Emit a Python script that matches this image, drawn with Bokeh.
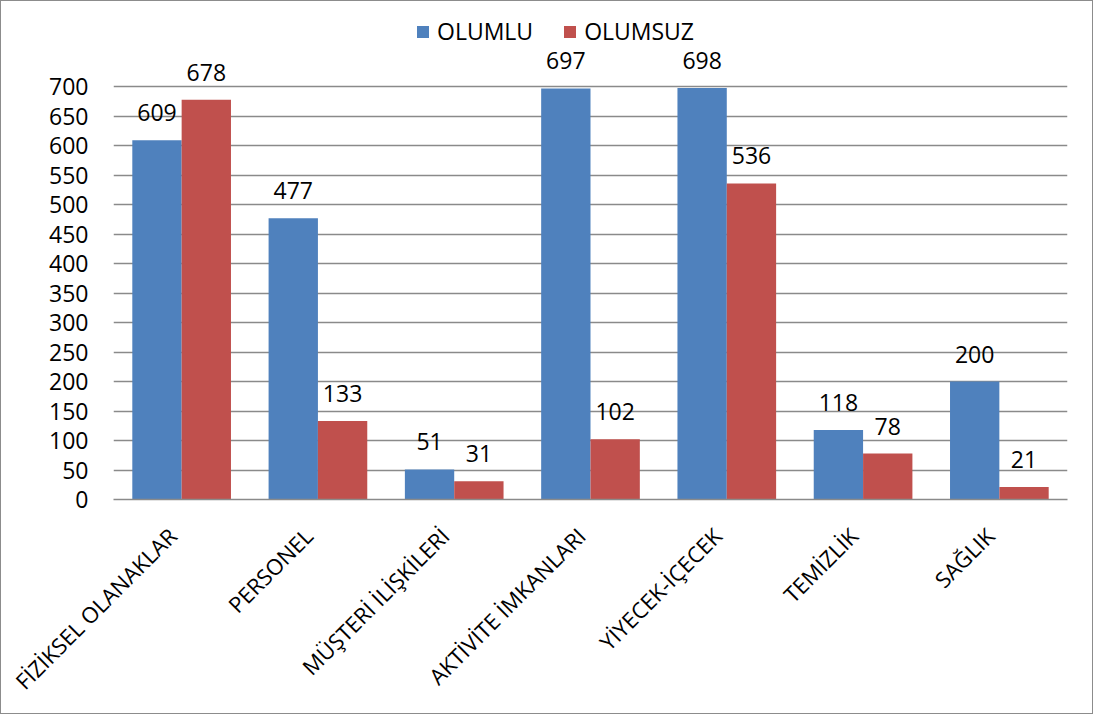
from bokeh.plotting import figure
from bokeh.models import (ColumnDataSource, FixedTicker, Legend, LegendItem,
                          Range1d, LinearAxis)
from bokeh.core.properties import value
from bokeh.embed import file_html
from bokeh.resources import INLINE
import math

categories = ["FİZİKSEL OLANAKLAR", "PERSONEL", "MÜŞTERİ İLİŞKİLERİ", "AKTİVİTE İMKANLARI",
              "YİYECEK-İÇECEK", "TEMİZLİK", "SAĞLIK"]
olumlu = [609, 477, 51, 697, 698, 118, 200]
olumsuz = [678, 133, 31, 102, 536, 78, 21]
series_names = ["OLUMLU", "OLUMSUZ"]
y_ticks = list(range(0, 701, 50))

FONT = "Open Sans"
BLUE = "#4F81BD"
RED = "#C0504D"
GRID = "#8a8a8a"

n = len(categories)
w = 0.362  # bar width as a fraction of one category slot
idx = list(range(n))

src = ColumnDataSource(dict(
    x1=[i - w / 2 for i in idx],
    x2=[i + w / 2 for i in idx],
    olumlu=olumlu,
    olumsuz=olumsuz,
    olumlu_txt=[str(v) for v in olumlu],
    olumsuz_txt=[str(v) for v in olumsuz],
))

p = figure(
    x_range=Range1d(-0.5, n - 0.5),
    y_range=Range1d(0, 836),
    width=1093, height=714,
    min_border_left=112, min_border_right=27, min_border_top=5, min_border_bottom=216,
    output_backend="svg", toolbar_location=None,
)
p.styles = {"border": "1px solid #8c8c8c"}
p.outline_line_color = None
p.background_fill_color = "white"
p.border_fill_color = "white"

r1 = p.vbar(x="x1", top="olumlu", width=w, bottom=0, source=src,
            fill_color=BLUE, line_color=None)
r2 = p.vbar(x="x2", top="olumsuz", width=w, bottom=0, source=src,
            fill_color=RED, line_color=None)

for xcol, col in (("x1", "olumlu"), ("x2", "olumsuz")):
    p.text(x=xcol, y=col, text=col + "_txt", source=src,
           text_align="center", text_baseline="bottom", y_offset=-19,
           text_font=value(FONT), text_font_size="23px", text_color="black")

# y axis
p.yaxis.ticker = FixedTicker(ticks=y_ticks)
p.yaxis.axis_line_color = None
p.yaxis.major_tick_line_color = None
p.yaxis.minor_tick_line_color = None
p.yaxis.major_tick_out = 0
p.yaxis.major_label_standoff = 25
p.yaxis.major_label_text_font = FONT
p.yaxis.major_label_text_font_size = "23px"
p.yaxis.major_label_text_color = "black"

# category axis on a label range nudged so rotated labels end under group centres
p.xaxis.visible = False
label_shift = 0.07
p.extra_x_ranges = {"lab": Range1d(-0.5 + label_shift, n - 0.5 + label_shift)}
cat_axis = LinearAxis(x_range_name="lab", ticker=FixedTicker(ticks=idx),
                      major_label_overrides={i: c for i, c in enumerate(categories)})
cat_axis.axis_line_color = GRID
cat_axis.axis_line_width = 1.5
cat_axis.major_tick_line_color = None
cat_axis.minor_tick_line_color = None
cat_axis.major_tick_out = 0
cat_axis.major_tick_in = 0
cat_axis.minor_tick_out = 0
cat_axis.minor_tick_in = 0
cat_axis.major_label_orientation = math.pi / 4
cat_axis.major_label_standoff = 32
cat_axis.major_label_text_font = FONT
cat_axis.major_label_text_font_size = "22px"
cat_axis.major_label_text_color = "black"
p.add_layout(cat_axis, "below")

p.xgrid.grid_line_color = None
p.ygrid.ticker = FixedTicker(ticks=y_ticks)
p.ygrid.grid_line_color = GRID
p.ygrid.grid_line_width = 1.5

legend = Legend(
    items=[LegendItem(label=series_names[0], renderers=[r1]),
           LegendItem(label=series_names[1], renderers=[r2])],
    orientation="horizontal", location=(302, 452),
    padding=0, margin=0, spacing=29, label_standoff=7,
    glyph_width=15, glyph_height=15,
    label_text_font=FONT, label_text_font_size="23px", label_text_color="black",
    background_fill_alpha=0, border_line_color=None,
)
p.add_layout(legend)

open("out.html", "w").write(file_html(p, INLINE))
